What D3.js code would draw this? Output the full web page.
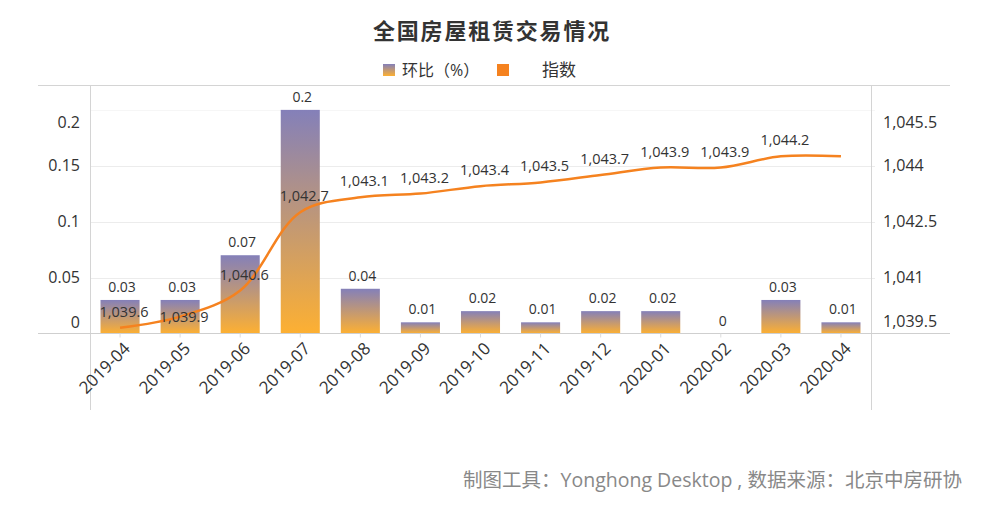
<!DOCTYPE html>
<html><head><meta charset="utf-8">
<script src="https://cdn.jsdelivr.net/npm/d3@7/dist/d3.min.js"></script>
<style>
body{margin:0;background:#fff;}
svg{display:block;}
text{font-family:"Open Sans","Noto Sans CJK SC",sans-serif;}
</style></head>
<body><svg id="c" width="983" height="506"></svg>
<script>
const categories = ['2019-04','2019-05','2019-06','2019-07','2019-08','2019-09','2019-10','2019-11','2019-12','2020-01','2020-02','2020-03','2020-04'];
const ratioValues = [0.03,0.03,0.07,0.2,0.04,0.01,0.02,0.01,0.02,0.02,0,0.03,0.01];
const indexValues = [1039.6,1039.9,1040.6,1042.7,1043.1,1043.2,1043.4,1043.5,1043.7,1043.9,1043.9,1044.2,1044.2];
const indexLabelShown = [true,true,true,true,true,true,true,true,true,true,true,true,false];
const leftTicks = [0,0.05,0.1,0.15,0.2];
const rightTicks = [1039.5,1041,1042.5,1044,1045.5];
const titleText = '全国房屋租赁交易情况';
const legendLabels = ['环比（%）','指数'];
const footerText = '制图工具：Yonghong Desktop , 数据来源：北京中房研协';

const svg = d3.select('#c');
const L = 90, R = 871, T = 85.5, B = 333.5;

const defs = svg.append('defs');
const grad = defs.append('linearGradient').attr('id','barGrad').attr('x1',0).attr('y1',0).attr('x2',0).attr('y2',1);
grad.append('stop').attr('offset','0%').attr('stop-color','#8480b9');
grad.append('stop').attr('offset','100%').attr('stop-color','#fdb032');

const x = d3.scaleBand().domain(categories).range([L,R]).paddingInner(0.35).paddingOuter(0.175);
const yL = d3.scaleLinear().domain([0,0.2218]).range([B,T]);
const yR = d3.scaleLinear().domain([1039.5,1039.5+0.2218*30]).range([B,T]);

// frame lines
svg.append('line').attr('x1',38).attr('x2',950).attr('y1',T).attr('y2',T).attr('stroke','#d4d4d4');
// gridlines
svg.append('g').selectAll('line').data(leftTicks.slice(1)).join('line')
  .attr('x1',L).attr('x2',R+4).attr('y1',d=>Math.round(yL(d))+0.5).attr('y2',d=>Math.round(yL(d))+0.5)
  .attr('stroke',(d,i)=>i===leftTicks.length-2?'#f6f6f6':'#ececec');
svg.append('line').attr('x1',L+0.5).attr('x2',L+0.5).attr('y1',T).attr('y2',410).attr('stroke','#d4d4d4');
svg.append('line').attr('x1',R+0.5).attr('x2',R+0.5).attr('y1',T).attr('y2',410).attr('stroke','#d4d4d4');

// bars
svg.append('g').selectAll('rect').data(ratioValues).join('rect')
  .attr('x',(d,i)=>x(categories[i])).attr('width',x.bandwidth())
  .attr('y',d=>yL(d)).attr('height',d=>B-yL(d))
  .attr('fill','url(#barGrad)');

// baseline
svg.append('line').attr('x1',38).attr('x2',950).attr('y1',B).attr('y2',B).attr('stroke','#cfcfcf');

// left axis
const gL = svg.append('g').attr('transform',`translate(${L},0)`)
  .call(d3.axisLeft(yL).tickValues(leftTicks).tickSize(0).tickPadding(10).tickFormat(d3.format('~g')));
gL.select('.domain').remove();
gL.selectAll('text').attr('font-size',16).attr('fill','#333').attr('font-family','"Open Sans",sans-serif')
  .attr('dy',(d,i)=>i===0?'-0.4em':(i===leftTicks.length-1?'1.1em':'0.32em'));

// right axis
const gR = svg.append('g').attr('transform',`translate(${R},0)`)
  .call(d3.axisRight(yR).tickValues(rightTicks).tickSize(0).tickPadding(12).tickFormat(d3.format(',~f')));
gR.select('.domain').remove();
gR.selectAll('text').attr('font-size',16).attr('fill','#333').attr('font-family','"Open Sans",sans-serif')
  .attr('dy',(d,i)=>i===0?'-0.45em':(i===rightTicks.length-1?'1.1em':'0.32em'));

// x axis
const gX = svg.append('g').attr('transform',`translate(0,${B})`)
  .call(d3.axisBottom(x).tickSize(4).tickPadding(6));
gX.select('.domain').remove();
gX.selectAll('.tick line').attr('stroke','#dcdcdc');
gX.selectAll('text').attr('font-size',17).attr('fill','#333').attr('font-family','"Open Sans",sans-serif')
  .attr('text-anchor','end').attr('dy','0.35em').attr('y',0)
  .attr('transform','translate(7,12) rotate(-45)');

// bar labels
const barLabelY = d=>yL(d)-8;
svg.append('g').selectAll('text').data(ratioValues).join('text')
  .attr('x',(d,i)=>x(categories[i])+x.bandwidth()/2+2).attr('y',barLabelY)
  .attr('text-anchor','middle').attr('font-size',14).attr('fill','#333')
  .text(d=>d3.format('~g')(d));

// line
const cx = i=>x(categories[i])+x.bandwidth()/2;
const py = v=>yR(v)-2;
const line = d3.line().x((d,i)=>cx(i)).y(d=>py(d)).curve(d3.curveCatmullRom.alpha(0.5));
svg.append('path').datum(indexValues).attr('d',line).attr('fill','none')
  .attr('stroke','#f5821f').attr('stroke-width',2.5);

// line labels (placed above the point; moved onto the point if they would collide with the bar label)
const lineLabelY = d=>{
  const above = py(d.v)-11;
  const barY = barLabelY(ratioValues[d.i]);
  return Math.abs(above-barY) < 19 ? py(d.v)+5 : above;
};
svg.append('g').selectAll('text').data(indexValues.map((v,i)=>({v,i})).filter(d=>indexLabelShown[d.i])).join('text')
  .attr('x',d=>cx(d.i)+4).attr('y',lineLabelY)
  .attr('text-anchor','middle').attr('font-size',14.5).attr('fill','#333')
  .text(d=>d3.format(',.1f')(d.v));

// title
svg.append('text').attr('x',492).attr('y',39).attr('text-anchor','middle')
  .attr('font-size',22).attr('font-weight','bold').attr('fill','#333')
  .attr('font-family','"Noto Sans CJK SC",sans-serif').attr('letter-spacing',1.8)
  .text(titleText);

// legend
const lg = svg.append('g');
lg.append('rect').attr('x',383).attr('y',64).attr('width',12).attr('height',12).attr('fill','url(#barGrad)');
lg.append('text').attr('x',402).attr('y',76).attr('font-size',16).attr('fill','#333')
  .attr('font-family','"Noto Sans CJK SC",sans-serif').text(legendLabels[0]);
lg.append('rect').attr('x',497).attr('y',64).attr('width',12).attr('height',12).attr('fill','#f5821f');
lg.append('text').attr('x',542).attr('y',76).attr('font-size',17).attr('fill','#333')
  .attr('font-family','"Noto Sans CJK SC",sans-serif').text(legendLabels[1]);

// footer
svg.append('text').attr('x',962).attr('y',487).attr('text-anchor','end')
  .attr('font-size',19.5).attr('fill','#888').attr('font-family','"Noto Sans CJK SC",sans-serif')
  .text(footerText);
</script></body></html>
